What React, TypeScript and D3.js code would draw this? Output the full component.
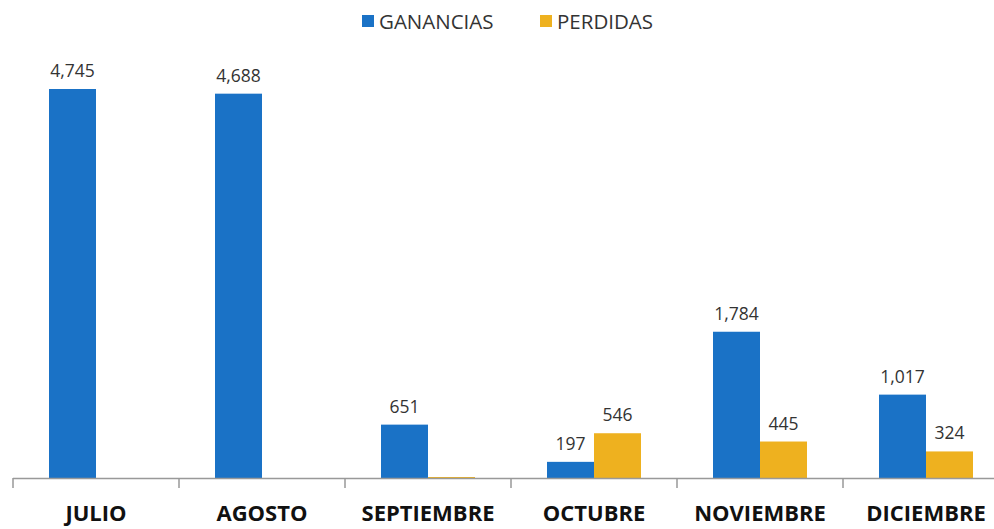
import React from "react";
import * as d3 from "d3";

const months = ["JULIO", "AGOSTO", "SEPTIEMBRE", "OCTUBRE", "NOVIEMBRE", "DICIEMBRE"];
const ganancias = [4745, 4688, 651, 197, 1784, 1017];
const perdidas = [0, 0, 12, 546, 445, 324];
const seriesNames = ["GANANCIAS", "PERDIDAS"];
const seriesColors = ["#1a72c6", "#eeb11f"];

const W = 994;
const H = 529;

export default function App() {
  const x = d3.scaleBand<string>().domain(months).range([13, 1009]).paddingInner(0).paddingOuter(0);
  const inner = d3.scaleBand<number>().domain([0, 1]).range([0, 94]);
  const y = d3.scaleLinear().domain([0, 4745]).range([478, 89]);
  const fmt = d3.format(",");
  const series = [ganancias, perdidas];
  const bw = x.bandwidth();

  return (
    <svg width={W} height={H} style={{ position: "absolute", left: 0, top: 0, background: "#fff" }}
      fontFamily="'Open Sans', sans-serif">
      {/* legend */}
      <g>
        <rect x={362} y={15} width={12} height={12} fill={seriesColors[0]} />
        <text x={379} y={29} fontSize={20.5} fill="#333">{seriesNames[0]}</text>
        <rect x={540} y={15} width={12} height={12} fill={seriesColors[1]} />
        <text x={557} y={29} fontSize={20.5} fill="#333">{seriesNames[1]}</text>
      </g>
      {/* bars */}
      {months.map((m, i) => {
        const cx = (x(m) as number) + bw / 2;
        return (
          <g key={m}>
            {series.map((s, k) => {
              const v = s[i];
              if (v <= 0) return null;
              const bx = cx - 47 + (inner(k) as number);
              const bwid = inner.bandwidth();
              return (
                <g key={k}>
                  <rect x={bx} y={y(v)} width={bwid} height={y(0) - y(v)} fill={seriesColors[k]} />
                  {v >= 50 && (
                    <text x={bx + bwid / 2} y={y(v) - 12} textAnchor="middle" fontSize={17.5} fill="#333">
                      {fmt(v)}
                    </text>
                  )}
                </g>
              );
            })}
          </g>
        );
      })}
      {/* axis */}
      <line x1={13} x2={1009} y1={y(0) + 0.5} y2={y(0) + 0.5} stroke="#999" strokeWidth={1.5} />
      {months.map((m) => (
        <line key={m} x1={x(m)} x2={x(m)} y1={y(0)} y2={y(0) + 10} stroke="#999" strokeWidth={1.5} />
      ))}
      {months.map((m) => (
        <text key={m} x={(x(m) as number) + bw / 2} y={521} textAnchor="middle" fontSize={22}
          fontWeight="bold" fill="#111">
          {m}
        </text>
      ))}
    </svg>
  );
}
